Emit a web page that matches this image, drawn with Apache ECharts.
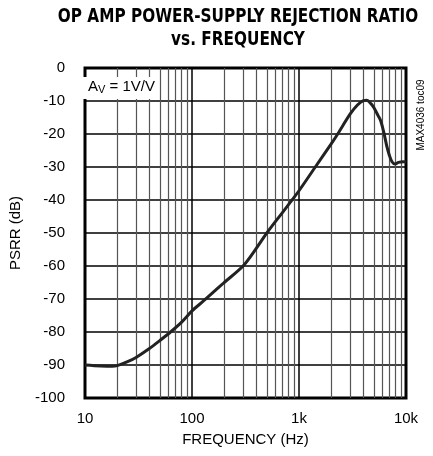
<!DOCTYPE html>
<html>
<head>
<meta charset="utf-8">
<script src="https://cdn.jsdelivr.net/npm/echarts@6/dist/echarts.min.js"></script>
<style>
  html, body { margin: 0; padding: 0; background: #fff; }
  #chart { width: 433px; height: 456px; }
</style>
</head>
<body>
<div id="chart"></div>
<script>
// frequency (Hz) and PSRR (dB)
var freq = [10, 14, 18, 20, 25, 30, 40, 50, 63, 80, 100, 128, 150, 200, 300, 400, 500, 700, 880, 1000, 1400, 2000, 2300, 3000, 3500, 4000, 4300, 4700, 5000, 5500, 5800, 6200, 6650, 7000, 7400, 7900, 8500, 9400, 10000]
var psrr = [-90, -90.3, -90.4, -90.2, -89, -87.7, -85, -82.6, -80, -77, -73.6, -70.6, -68.6, -65, -60, -54.6, -50, -43.8, -39.6, -37.2, -30.3, -23, -20, -14, -11.3, -9.9, -9.8, -10.8, -12, -14.5, -16, -19.5, -24, -26.5, -28.4, -29.1, -28.6, -28.4, -28.5]
var minorFreqs = [20, 30, 40, 50, 60, 70, 80, 90, 200, 300, 400, 500, 600, 700, 800, 900, 2000, 3000, 4000, 5000, 6000, 7000, 8000, 9000]
var xTickLabels = { 10: '10', 100: '100', 1000: '1k', 10000: '10k' }

var myChart = echarts.init(document.getElementById('chart'))
var font = 'Liberation Sans, Arial, sans-serif'
var titleFont = 'DejaVu Sans Condensed, Liberation Sans, sans-serif'

var option = {
  backgroundColor: '#fff',
  animation: false,
  grid: {
    left: 77,
    right: 27,
    top: 68,
    bottom: 58,
    show: true,
    borderColor: '#000',
    borderWidth: 3,
    backgroundColor: 'transparent'
  },
  xAxis: {
    type: 'log',
    logBase: 10,
    min: 10,
    max: 10000,
    name: 'FREQUENCY (Hz)',
    nameLocation: 'middle',
    nameGap: 34,
    nameTextStyle: { fontFamily: font, fontSize: 15, color: '#000' },
    axisLine: { show: false },
    axisTick: { show: false },
    axisLabel: {
      margin: 13,
      fontFamily: font,
      fontSize: 15,
      color: '#000',
      formatter: function (v) { return xTickLabels[Math.round(v)] || '' }
    },
    splitLine: { show: true, lineStyle: { color: '#000', width: 1.5 } }
  },
  yAxis: {
    type: 'value',
    min: -100,
    max: 0,
    interval: 10,
    name: 'PSRR (dB)',
    nameLocation: 'middle',
    nameGap: 62,
    nameTextStyle: { fontFamily: font, fontSize: 15, color: '#000' },
    axisLine: { show: false },
    axisTick: { show: false },
    axisLabel: { margin: 20, fontFamily: font, fontSize: 15, color: '#000' },
    splitLine: { show: true, lineStyle: { color: '#000', width: 1.5 } }
  },
  series: [{
    type: 'line',
    data: freq.map(function (f, i) { return [f, psrr[i]] }),
    smooth: 0.3,
    showSymbol: false,
    lineStyle: { color: '#222', width: 3 },
    z: 5,
    markLine: {
      silent: true,
      symbol: 'none',
      label: { show: false },
      lineStyle: { color: '#555', width: 1.2, type: 'solid' },
      data: minorFreqs.map(function (f) { return { xAxis: f } }),
      z: 1
    }
  }],
  graphic: [
    // title, stretched a bit vertically like the condensed original
    {
      type: 'text',
      x: 238,
      y: 17,
      scaleY: 1.15,
      style: {
        text: 'OP AMP POWER-SUPPLY REJECTION RATIO',
        align: 'center',
        verticalAlign: 'middle',
        fontFamily: titleFont,
        fontWeight: 'bold',
        fontSize: 17,
        fill: '#000'
      }
    },
    {
      type: 'text',
      x: 238,
      y: 40,
      scaleY: 1.15,
      style: {
        text: 'vs. FREQUENCY',
        align: 'center',
        verticalAlign: 'middle',
        fontFamily: titleFont,
        fontWeight: 'bold',
        fontSize: 17,
        fill: '#000'
      }
    },
    {
      type: 'rect',
      zlevel: 1,
      shape: { x: 79, y: 77, width: 80, height: 22 },
      style: { fill: '#fff' }
    },
    {
      type: 'text',
      zlevel: 1,
      z: 2,
      x: 88,
      y: 87,
      style: {
        text: '{a|A}{s|V}{a| = 1V/V}',
        verticalAlign: 'middle',
        rich: {
          a: { fontFamily: font, fontSize: 15, fill: '#000' },
          s: { fontFamily: font, fontSize: 11, fill: '#000', padding: [6, 0, 0, 0] }
        }
      }
    },
    {
      type: 'text',
      zlevel: 1,
      x: 421,
      y: 115,
      rotation: Math.PI / 2,
      style: {
        text: 'MAX4036 toc09',
        align: 'center',
        verticalAlign: 'middle',
        fontFamily: font,
        fontSize: 10,
        fill: '#000'
      }
    }
  ]
}
myChart.setOption(option)
</script>
</body>
</html>
